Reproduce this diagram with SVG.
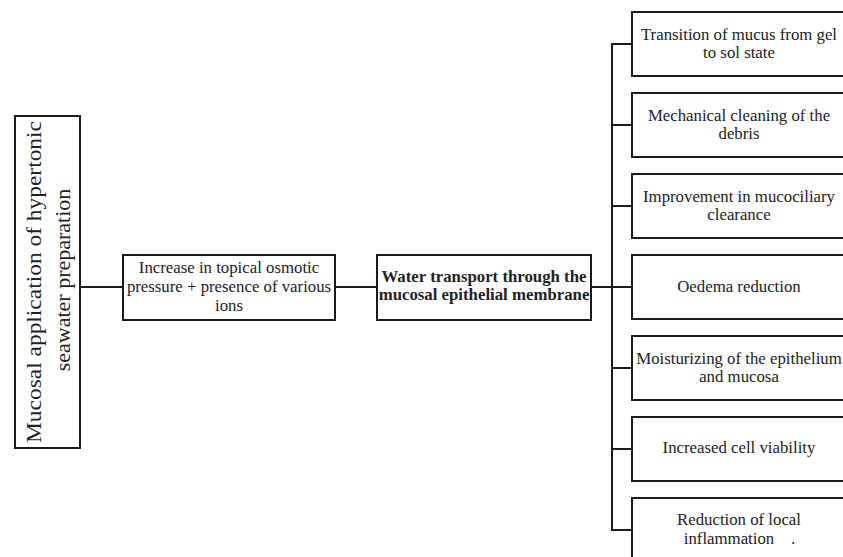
<svg xmlns="http://www.w3.org/2000/svg" width="843" height="557" viewBox="0 0 843 557">
<style>
.box{fill:#fff;stroke:#1a1a1a;stroke-width:2}
.t{font-family:"Liberation Serif","Times New Roman",serif;font-size:16.8px;fill:#222;text-anchor:middle}
.b{font-weight:bold}
.big{font-size:22px}
.c{stroke:#1a1a1a;stroke-width:2;fill:none}
</style>
<rect width="843" height="557" fill="#fff"/>
<g id="connectors">
<line class="c" x1="80" y1="287" x2="123" y2="287"/>
<line class="c" x1="335" y1="287" x2="377" y2="287"/>
<line class="c" x1="591" y1="287" x2="612" y2="287"/>
<line class="c" x1="612" y1="44" x2="612" y2="530"/>
<line class="c" x1="611" y1="44" x2="632" y2="44"/>
<line class="c" x1="611" y1="125" x2="632" y2="125"/>
<line class="c" x1="611" y1="206" x2="632" y2="206"/>
<line class="c" x1="611" y1="287" x2="632" y2="287"/>
<line class="c" x1="611" y1="368" x2="632" y2="368"/>
<line class="c" x1="611" y1="449" x2="632" y2="449"/>
<line class="c" x1="611" y1="530" x2="632" y2="530"/>
</g>
<g id="n-source">
<rect class="box" x="15" y="116" width="65" height="332"/>
<text class="t big" transform="translate(41,282) rotate(-90)" x="0" y="0" textLength="322" lengthAdjust="spacingAndGlyphs">Mucosal application of hypertonic</text>
<text class="t big" transform="translate(70,280) rotate(-90)" x="0" y="0">seawater preparation</text>
</g>
<g id="n-osmotic">
<rect class="box" x="123" y="255" width="212" height="65"/>
<text class="t" x="229" y="273">Increase in topical osmotic</text>
<text class="t" x="229" y="292">pressure + presence of various</text>
<text class="t" x="229" y="311">ions</text>
</g>
<g id="n-water">
<rect class="box" x="377" y="255" width="214" height="65"/>
<text class="t b" x="484" y="282">Water transport through the</text>
<text class="t b" x="484" y="300">mucosal epithelial membrane</text>
</g>
<g id="n-gel">
<rect class="box" x="632" y="12" width="220" height="64"/>
<text class="t" x="739" y="40">Transition of mucus from gel</text>
<text class="t" x="739" y="58">to sol state</text>
</g>
<g id="n-debris">
<rect class="box" x="632" y="93" width="220" height="64"/>
<text class="t" x="739" y="121">Mechanical cleaning of the</text>
<text class="t" x="739" y="139">debris</text>
</g>
<g id="n-clearance">
<rect class="box" x="632" y="174" width="220" height="64"/>
<text class="t" x="739" y="202">Improvement in mucociliary</text>
<text class="t" x="739" y="220">clearance</text>
</g>
<g id="n-oedema">
<rect class="box" x="632" y="255" width="220" height="64"/>
<text class="t" x="739" y="292">Oedema reduction</text>
</g>
<g id="n-moist">
<rect class="box" x="632" y="336" width="220" height="64"/>
<text class="t" x="739" y="364">Moisturizing of the epithelium</text>
<text class="t" x="739" y="382">and mucosa</text>
</g>
<g id="n-viability">
<rect class="box" x="632" y="417" width="220" height="64"/>
<text class="t" x="739" y="453">Increased cell viability</text>
</g>
<g id="n-inflammation">
<rect class="box" x="632" y="498" width="220" height="80"/>
<text class="t" x="739" y="525">Reduction of local</text>
<text class="t" x="729" y="544">inflammation</text>
<text class="t" x="793" y="544">.</text>
</g>
</svg>
